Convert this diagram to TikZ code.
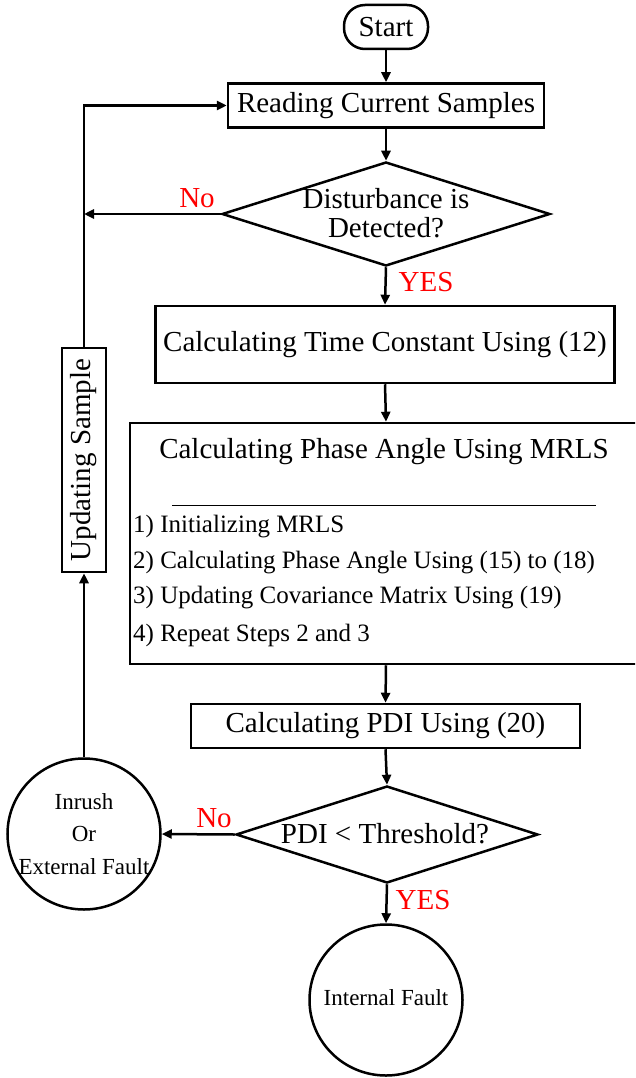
\documentclass[tikz,border=0pt]{standalone}
\usepackage{fontspec}
\setmainfont{Liberation Serif}
\usetikzlibrary{arrows.meta,shapes.geometric}
\begin{document}
\begin{tikzpicture}[x=1pt,y=-1pt,
  big/.style={font=\fontsize{29}{31}\selectfont},
  box/.style={draw,line width=2.5pt,inner sep=0pt,big},
  dia/.style={draw,diamond,line width=2.5pt,inner sep=0pt},
  circ/.style={draw,ellipse,line width=2.5pt,inner sep=0pt,minimum width=153pt,minimum height=151pt},
  ctext/.style={font=\fontsize{23}{32.5}\selectfont,align=center,inner sep=0pt},
  item/.style={font=\fontsize{25}{28}\selectfont,anchor=west,inner sep=0pt},
  lbl/.style={text=red,big,inner sep=0pt},
  arr/.style={line width=2.5pt,-{Triangle[length=10pt,width=9pt]}},
  ln/.style={line width=2.5pt}
]
\useasboundingbox (0,0) rectangle (635,1078);
\clip (0,0) rectangle (635,1078);

\node[box,rounded corners=21pt,minimum width=84pt,minimum height=44pt] (start) at (386,27) {Start};
\node[box,minimum width=316pt,minimum height=44pt] (read) at (386,105.5) {Reading Current Samples};
\node[dia,minimum width=328pt,minimum height=104pt] (d1) at (386,214) {};
\node[big,align=center,inner sep=0pt] (d1t) at (386,213) {Disturbance is\\[-2pt]Detected?};
\node[box,minimum width=459pt,minimum height=77pt] (time) at (385,344.5) {Calculating Time Constant Using (12)};
\node[box,minimum width=512pt,minimum height=241pt] (phase) at (386,543.5) {};
\node[big,inner sep=0pt] (ptitle) at (384,452) {Calculating Phase Angle Using MRLS};
\coordinate (s1) at (172,505);
\coordinate (s2) at (596,505);
\draw[line width=1pt] (s1) -- (s2);
\node[item] (i1) at (133,527) {1) Initializing MRLS};
\node[item] (i2) at (133,563) {2) Calculating Phase Angle Using (15) to (18)};
\node[item] (i3) at (133,598) {3) Updating Covariance Matrix Using (19)};
\node[item] (i4) at (133,635) {4) Repeat Steps 2 and 3};
\node[box,minimum width=389pt,minimum height=44pt] (pdi) at (385.5,726) {Calculating PDI Using (20)};
\node[dia,minimum width=302pt,minimum height=97pt] (d2) at (387,834.5) {};
\node[big,inner sep=0pt] (d2t) at (385,834) {PDI < Threshold?};
\node[circ] (inrush) at (84,834) {};
\node[ctext] (inrusht) at (84,834) {Inrush\\Or\\External Fault};
\node[circ] (internal) at (386,1000) {};
\node[ctext] (internalt) at (386,998) {Internal Fault};
\node[box,minimum width=224pt,minimum height=44pt,rotate=90] (upd) at (84,460) {Updating Sample};
\coordinate (j1) at (84,214);

\draw[arr] (start.south) -- (read.north);
\draw[arr] (read.south) -- (d1.north);
\draw[arr] (d1.west) -- (j1);
\draw[arr] (d1.south) -- (time.north);
\draw[arr] (time.south) -- (phase.north);
\draw[arr] (phase.south) -- (pdi.north);
\draw[arr] (pdi.south) -- (d2.north);
\draw[arr] (d2.west) -- (inrush.east);
\draw[arr] (d2.south) -- (internal.north);
\draw[arr] (inrush.north) -- (upd.west);
\draw[arr] (upd.east) |- (read.west);

\node[lbl] (no1) at (197,198) {No};
\node[lbl] (yes1) at (426,282) {YES};
\node[lbl] (no2) at (214,818) {No};
\node[lbl] (yes2) at (423,900) {YES};
\end{tikzpicture}
\end{document}
